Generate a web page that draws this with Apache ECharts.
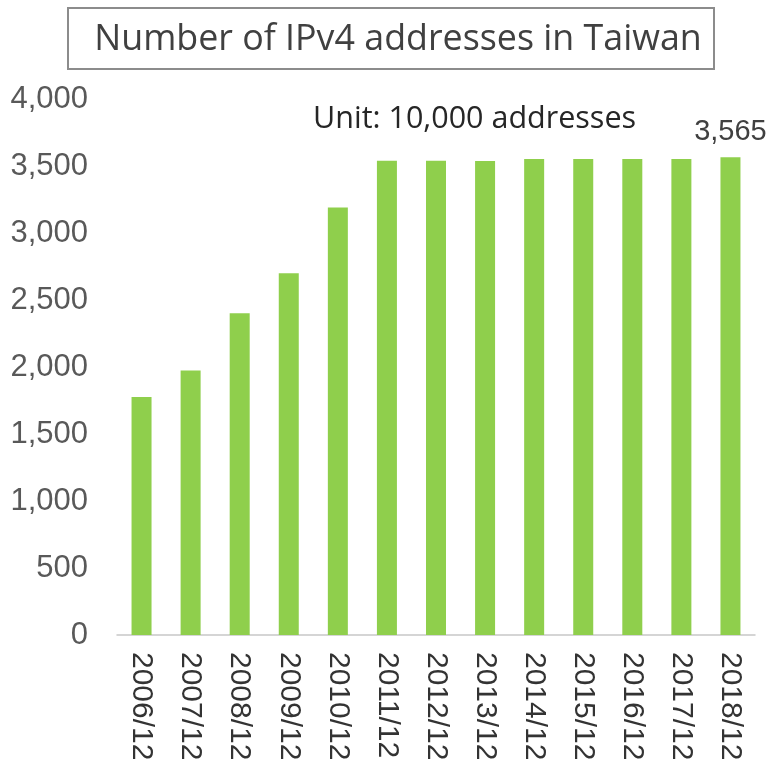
<!DOCTYPE html>
<html>
<head>
<meta charset="utf-8">
<script src="https://cdn.jsdelivr.net/npm/echarts@6/dist/echarts.min.js"></script>
<style>
  html, body { margin: 0; padding: 0; background: #fff; }
  #chart { width: 771px; height: 767px; }
</style>
</head>
<body>
<div id="chart"></div>
<script>
// data (unit: 10,000 addresses)
const years = ['2006/12', '2007/12', '2008/12', '2009/12', '2010/12', '2011/12', '2012/12',
  '2013/12', '2014/12', '2015/12', '2016/12', '2017/12', '2018/12']
const addresses = [1777, 1973, 2401, 2700, 3190, 3540, 3540, 3538, 3553, 3553, 3553, 3553, 3565]
const yTicks = { min: 0, max: 4000, interval: 500 }

const chart = echarts.init(document.getElementById('chart'))

// only the last bar carries a value label
const barData = addresses.map((v, i) => {
  if (i === addresses.length - 1) {
    return { value: v, label: { show: true } }
  }
  return v
})

const option = {
  animation: false,
  title: [
    {
      text: 'Number of IPv4 addresses in Taiwan',
      left: 393,
      top: 17,
      textAlign: 'center',
      textStyle: {
        color: '#404040',
        fontSize: 35.8,
        fontWeight: 'normal',
        fontFamily: 'Open Sans',
      },
    },
    {
      text: 'Unit: 10,000 addresses',
      left: 308,
      top: 99,
      textStyle: {
        color: '#262626',
        fontSize: 30.5,
        fontWeight: 'normal',
        fontFamily: 'Open Sans',
      },
    },
  ],
  graphic: [
    {
      type: 'rect',
      shape: { x: 68, y: 8, width: 646, height: 61 },
      style: { fill: 'none', stroke: '#8c8c8c', lineWidth: 2 },
    },
  ],
  grid: {
    left: 117,
    right: 16,
    top: 99,
    bottom: 132,
  },
  xAxis: {
    type: 'category',
    data: years,
    axisLine: { lineStyle: { color: '#c8c8c8', width: 1.5 } },
    axisTick: { alignWithLabel: false, inside: true, length: 6, lineStyle: { color: '#c8c8c8' } },
    axisLabel: {
      rotate: -90,
      interval: 0,
      margin: 17,
      color: '#333333',
      fontSize: 30,
      fontFamily: 'Liberation Sans',
    },
  },
  yAxis: {
    type: 'value',
    min: yTicks.min,
    max: yTicks.max,
    interval: yTicks.interval,
    axisLine: { show: false },
    axisTick: { show: false },
    splitLine: { show: false },
    axisLabel: {
      margin: 29,
      color: '#595959',
      fontSize: 31,
      fontFamily: 'Liberation Sans',
      formatter: (v) => v.toLocaleString('en-US'),
    },
  },
  series: [
    {
      type: 'bar',
      data: barData,
      barWidth: 20,
      itemStyle: { color: '#8fcf4c' },
      label: {
        show: false,
        position: 'top',
        distance: 11,
        color: '#404040',
        fontSize: 29,
        fontFamily: 'Liberation Sans',
        formatter: (p) => p.value.toLocaleString('en-US'),
      },
    },
  ],
}

chart.setOption(option)
</script>
</body>
</html>
